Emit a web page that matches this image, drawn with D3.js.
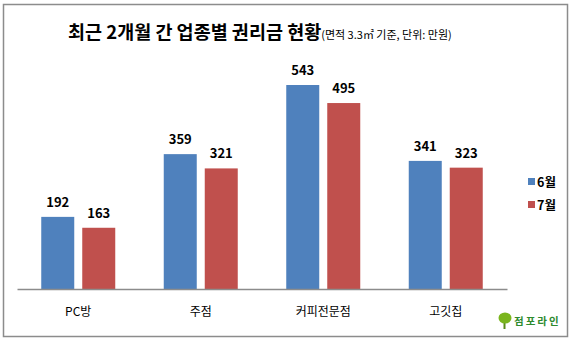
<!DOCTYPE html>
<html><head><meta charset="utf-8">
<script src="https://cdn.jsdelivr.net/npm/d3@7"></script>
<style>body{margin:0;background:#fff}svg{display:block}text{font-family:"Noto Sans CJK KR","Noto Sans",sans-serif}</style>
</head><body>
<svg id="c" width="571" height="341"></svg>
<script>
const categories = ["PC방", "주점", "커피전문점", "고깃집"];
const seriesNames = ["6월", "7월"];
const june = [192, 359, 543, 341];
const july = [163, 321, 495, 323];
const colors = ["#4F81BD", "#C0504D"];
const titleMain = "최근 2개월 간 업종별 권리금 현황";
const titleSub = "(면적 3.3㎡ 기준, 단위: 만원)";

const svg = d3.select("#c");
svg.append("rect").attr("x",3.5).attr("y",4.5).attr("width",564).attr("height",332)
  .attr("fill","#fff").attr("stroke","#8c8c8c").attr("stroke-width",1.5);

const t = svg.append("text").attr("x",68).attr("y",39).attr("fill","#000");
t.append("tspan").attr("font-size",18.5).attr("font-weight","bold").text(titleMain);
t.append("tspan").attr("font-size",11).text(titleSub);

const x0 = d3.scaleBand().domain(categories).range([17,507]);
const y = d3.scaleLinear().domain([0,600]).range([289,63.6]);
const x1 = d3.scaleBand().domain(seriesNames).range([0,74]).paddingInner(8/41);
const data = [june, july];

categories.forEach((c,i)=>{
  const g = svg.append("g").attr("transform",`translate(${x0(c)+x0.bandwidth()/2-37},0)`);
  seriesNames.forEach((s,j)=>{
    const v = data[j][i];
    g.append("rect").attr("x",x1(s)).attr("y",y(v)).attr("width",x1.bandwidth())
      .attr("height",y(0)-y(v)).attr("fill",colors[j]);
    g.append("text").attr("x",x1(s)+x1.bandwidth()/2).attr("y",y(v)-10)
      .attr("text-anchor","middle").attr("font-size",13).attr("font-weight","bold")
      .attr("fill","#000").text(v);
  });
});

const axis = svg.append("g").attr("transform","translate(0,289)")
  .call(d3.axisBottom(x0).tickSize(0).tickPadding(18));
axis.select(".domain").attr("stroke","#8c8c8c").attr("stroke-width",1.5);
axis.selectAll("text").attr("font-size",12).attr("fill","#000")
  .style("font-family",'"Noto Sans CJK KR",sans-serif');

const leg = svg.append("g");
seriesNames.forEach((s,j)=>{
  const yy = 178 + j*23;
  leg.append("rect").attr("x",528).attr("y",yy).attr("width",7).attr("height",7).attr("fill",colors[j]);
  leg.append("text").attr("x",537).attr("y",yy+9).attr("font-size",12.5).attr("font-weight","bold")
    .attr("fill","#000").text(s);
});

// logo
const lg = svg.append("g");
lg.append("rect").attr("x",503.5).attr("y",321).attr("width",2).attr("height",8).attr("fill","#5a8a1a");
lg.append("ellipse").attr("cx",505).attr("cy",318).attr("rx",6.5).attr("ry",5.5).attr("fill","#7ab51d");
lg.append("text").attr("x",514).attr("y",325).attr("font-size",10.5).attr("font-weight","bold")
  .attr("fill","#2e8b2e").attr("letter-spacing",2).text("점포라인");
</script>
</body></html>
